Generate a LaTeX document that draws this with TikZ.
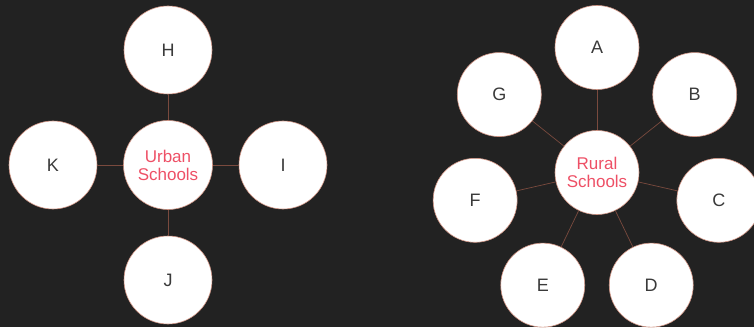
\documentclass[tikz,border=0pt]{standalone}
\usepackage{fontspec}
\setmainfont{Liberation Sans}
\definecolor{bgdark}{HTML}{222222}
\definecolor{ringline}{HTML}{D09484}
\definecolor{spokeline}{HTML}{7A4A3E}
\definecolor{hubtext}{HTML}{EE5066}
\definecolor{leaftext}{HTML}{3A3A3A}
\tikzset{
  hub/.style={circle, fill=white, draw=ringline, line width=0.6pt, inner sep=0pt,
    align=center, text=hubtext, font=\fontsize{17}{18}\selectfont},
  leaf/.style={circle, fill=white, draw=ringline, line width=0.6pt, inner sep=0pt,
    text=leaftext, font=\fontsize{18}{20}\selectfont},
  spoke/.style={draw=spokeline, line width=0.7pt}
}
\begin{document}
\begin{tikzpicture}[x=1pt, y=1pt]
	\fill[bgdark] (0,0) rectangle (754,327);
	\useasboundingbox (0,0) rectangle (754,327);
	% urban group
	\node[hub, minimum size=89pt] (urban) at (168,162) {Urban\\Schools};
	\foreach \name/\ang in {H/90, I/0, J/270, K/180} {
		\node[leaf, minimum size=88pt] (\name) at ([shift={(\ang:115)}]urban) {\name};
		\draw[spoke] (urban) -- (\name);
	}
	% rural group
	\node[hub, minimum size=84pt] (rural) at (597,154.5) {Rural\\Schools};
	\foreach \name [count=\i from 0] in {A, B, C, D, E, F, G} {
		\node[leaf, minimum size=84pt] (\name) at ([shift={(90-\i*360/7:125)}]rural) {\name};
		\draw[spoke] (rural) -- (\name);
	}
\end{tikzpicture}
\end{document}
